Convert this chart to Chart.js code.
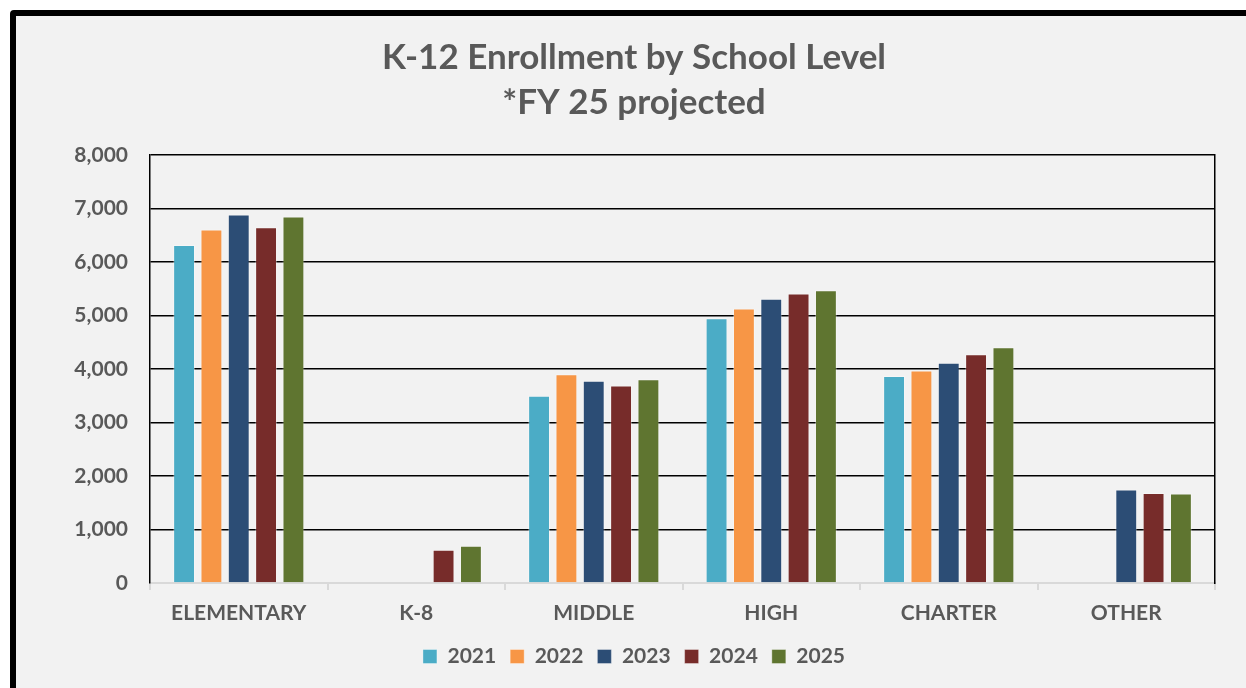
<!DOCTYPE html>
<html>
<head>
<meta charset="utf-8">
<script src="https://cdn.jsdelivr.net/npm/chart.js@4/dist/chart.umd.min.js"></script>
<style>
  html, body { margin: 0; padding: 0; background: #fff; overflow: hidden; }
  #frame {
    position: absolute; left: 10px; top: 10px;
    width: 1300px; height: 740px;
    border: 6px solid #000; border-radius: 4px;
    background: #f2f2f2;
  }
  #wrap { position: absolute; left: 0; top: 0; width: 1246px; height: 688px; }
</style>
</head>
<body>
<div id="frame"></div>
<div id="wrap"><canvas id="enroll" width="1246" height="688"></canvas></div>
<script>
// Schulstufen und Jahre
var levels = ["ELEMENTARY", "K-8", "MIDDLE", "HIGH", "CHARTER", "OTHER"];
var years = ["2021", "2022", "2023", "2024", "2025"];
var colors = ["#4bacc6", "#f79646", "#2c4d75", "#772c2a", "#5f7530"];

// Werte je Jahr (null = keine Daten)
var fy2021 = [6320, null, 3500, 4950, 3870, null];
var fy2022 = [6610, null, 3900, 5130, 3970, null];
var fy2023 = [6890, null, 3780, 5315, 4115, 1750];
var fy2024 = [6650, 620, 3690, 5410, 4275, 1680];
var fy2025 = [6850, 695, 3810, 5470, 4405, 1675];

var yTicks = [0, 1000, 2000, 3000, 4000, 5000, 6000, 7000, 8000];

var series = [fy2021, fy2022, fy2023, fy2024, fy2025];
var textColor = "#595959";
var fontFam = "Lato, 'Open Sans', sans-serif";

var datasets = [];
for (var i in series) {
  datasets.push({
    label: years[i],
    backgroundColor: colors[i],
    borderColor: "rgba(255,255,255,0.35)",
    borderWidth: 1,
    data: series[i],
    categoryPercentage: 0.77,
    barPercentage: 0.8
  });
}

var ctx = document.getElementById("enroll");
var myChart = new Chart(ctx, {
  type: "bar",
  data: { labels: levels, datasets: datasets },
  options: {
    responsive: false,
    animation: false,
    layout: { padding: { left: 22, right: 0, top: 0, bottom: 11 } },
    plugins: {
      title: {
        display: true,
        text: ["K-12 Enrollment by School Level", "*FY 25 projected"],
        color: textColor,
        font: { family: fontFam, size: 35, weight: "bold", lineHeight: 1.286 },
        padding: { top: 35.5, bottom: 29.5 }
      },
      legend: {
        position: "bottom",
        labels: {
          color: textColor,
          font: { family: fontFam, size: 21, weight: "bold" },
          boxWidth: 14,
          boxHeight: 14,
          padding: 14
        }
      },
      tooltip: { enabled: false }
    },
    scales: {
      x: {
        grid: {
          display: true,
          drawOnChartArea: false,
          drawTicks: true,
          tickLength: 7,
          color: "#d9d9d9",
          lineWidth: 2
        },
        border: { display: true, color: "#d9d9d9", width: 2 },
        ticks: {
          color: textColor,
          font: { family: fontFam, size: 21, weight: "bold" },
          padding: 11,
          maxRotation: 0
        },
        afterFit: function (scale) { scale.height = 49; }
      },
      y: {
        min: 0,
        max: 8000,
        afterBuildTicks: function (scale) {
          scale.ticks = yTicks.map(function (v) { return { value: v }; });
        },
        grid: {
          drawTicks: false,
          color: function (c) { return c.tick && c.tick.value === 0 ? "rgba(0,0,0,0)" : "#000"; },
          lineWidth: 1.5
        },
        border: { display: true, color: "#000", width: 1.5 },
        ticks: {
          color: textColor,
          font: { family: fontFam, size: 21, weight: "bold" },
          padding: 22,
          callback: function (v) { return v.toLocaleString("en-US"); }
        },
        afterFit: function (scale) { scale.width = 128; }
      },
      y2: {
        position: "right",
        min: 0,
        max: 8000,
        grid: { drawOnChartArea: false, drawTicks: false },
        border: { display: true, color: "#000", width: 1.5 },
        ticks: { display: false },
        afterFit: function (scale) { scale.width = 31; }
      }
    }
  }
});
</script>
</body>
</html>
